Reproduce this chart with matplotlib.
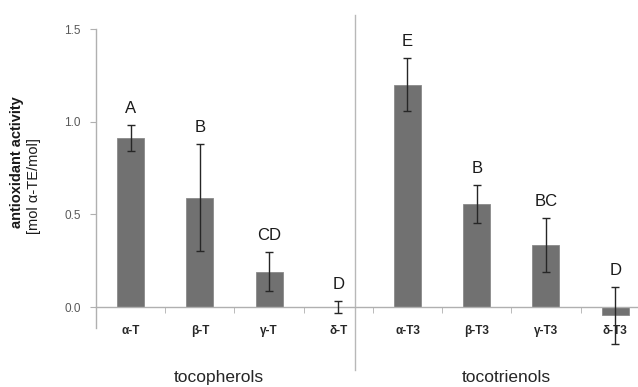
import numpy as np
import matplotlib
matplotlib.use("Agg")
from matplotlib import pyplot as plt
from matplotlib.transforms import blended_transform_factory

plt.rcParams["font.family"] = ["Liberation Sans", "DejaVu Sans"]

# Values
CATEGORIES: list[str] = ["α-T", "β-T", "γ-T", "δ-T", "α-T3", "β-T3", "γ-T3", "δ-T3"]
ACTIVITY: list[float] = [0.91, 0.59, 0.19, 0.0, 1.20, 0.555, 0.335, -0.045]
ACTIVITY_SD: list[float] = [0.07, 0.29, 0.105, 0.031, 0.145, 0.103, 0.145, 0.152]
SIG_LETTERS: list[str] = ["A", "B", "CD", "D", "E", "B", "BC", "D"]
GROUPS: list[str] = ["tocopherols", "tocotrienols"]
Y_TICKS: list[float] = [0.0, 0.5, 1.0, 1.5]


def main() -> None:
    fig = plt.figure(figsize=(6.38, 3.87), dpi=100)
    ax = fig.add_axes([96 / 638, 59 / 387, 1 - 96 / 638, 299 / 387])

    x = np.arange(len(CATEGORIES))
    ax.bar(x, ACTIVITY, width=0.39, color="#717171", edgecolor="#8a8a8a", linewidth=0.6, zorder=2)
    ax.errorbar(x, ACTIVITY, yerr=ACTIVITY_SD, fmt="none", ecolor="#262626",
                elinewidth=1.0, capsize=3, capthick=1.0, zorder=3, clip_on=False)

    for xi, v, sd, letter in zip(x, ACTIVITY, ACTIVITY_SD, SIG_LETTERS):
        ax.text(xi, v + sd + 0.09, letter, ha="center", va="center", fontsize=12,
                color="#1a1a1a", clip_on=False)

    ax.set_xlim(-0.5, 7.33)
    ax.set_ylim(-0.113, 1.5)

    # axes look (Excel style)
    for side in ["top", "right"]:
        ax.spines[side].set_visible(False)
    ax.spines["bottom"].set_position(("data", 0))
    for side in ["left", "bottom"]:
        ax.spines[side].set_color("#b0b0b0")
        ax.spines[side].set_linewidth(1.0)
    ax.spines["left"].set_bounds(-0.113, 1.5)

    ax.set_yticks(Y_TICKS)
    ax.set_yticklabels([f"{t:.1f}" for t in Y_TICKS])
    ax.tick_params(axis="y", length=4, color="#b0b0b0", pad=7, labelsize=8.5, labelcolor="#595959")

    ax.set_xticks(x)
    ax.set_xticklabels(CATEGORIES, fontweight="bold", fontsize=8.5)
    ax.tick_params(axis="x", which="major", length=0, pad=13, labelcolor="#262626")
    ax.set_xticks(np.arange(0.5, len(CATEGORIES) - 0.5, 1.0), minor=True)
    ax.tick_params(axis="x", which="minor", length=4, color="#b0b0b0", direction="out")

    # group separator
    trans = blended_transform_factory(ax.transData, ax.transAxes)
    ax.plot([3.247, 3.247], [-0.14, 1.047], color="#b8b8b8", linewidth=1.0,
            transform=trans, clip_on=False)

    ax.text(1.27, -0.167, GROUPS[0], transform=trans, ha="center", va="center",
            fontsize=12.5, color="#262626")
    ax.text(5.43, -0.167, GROUPS[1], transform=trans, ha="center", va="center",
            fontsize=12.5, color="#262626")

    fig.text(17 / 638, 1 - 162 / 387, "antioxidant activity", rotation=90, ha="center",
             va="center", fontsize=10.5, fontweight="bold", color="#1a1a1a")
    fig.text(34 / 638, 1 - 186 / 387, "[mol α-TE/mol]", rotation=90, ha="center",
             va="center", fontsize=10.5, color="#1a1a1a")

    fig.savefig("out.png", dpi=100)


if __name__ == "__main__":
    main()
